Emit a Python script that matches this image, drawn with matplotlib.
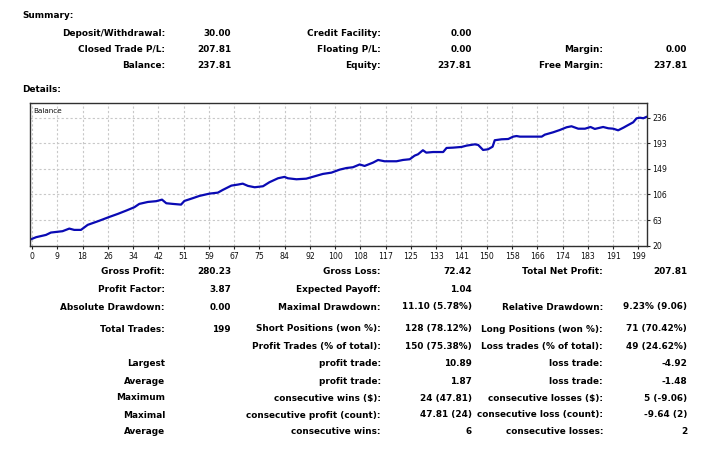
import matplotlib
matplotlib.use("Agg")
import matplotlib.pyplot as plt

W, H = 722, 474

# ---------------- data ----------------
trade_idx = [0, 2.0, 5.2, 6.8, 10.6, 12.8, 14.4, 16.6, 18.8, 22.6, 25.9, 28.6, 31.3, 34.0,
             35.6, 38.4, 41.1, 43.0, 44.4, 46.5, 49.2, 50.3, 53.0, 55.2, 58.5, 61.2, 62.8,
             65.6, 67.7, 69.3, 71.0, 73.2, 75.9, 78.0, 80.8, 82.9, 84.0, 86.8, 90.0, 92.7,
             95.4, 98.2, 100.9, 103.1, 105.2, 107.4, 109.0, 111.7, 113.4, 115.5, 119.4,
             121.5, 123.7, 125.3, 126.4, 128.0, 129.1, 131.3, 134.6, 135.7, 137.8, 140.6,
             142.2, 144.9, 146.0, 147.6, 149.2, 150.7, 151.4, 153.6, 155.8, 157.4, 158.5,
             159.6, 166.7, 167.7, 170.4, 172.6, 174.8, 176.4, 178.6, 180.8, 182.6, 184.0,
             186.7, 188.4, 190.0, 191.6, 193.3, 194.9, 196.5, 197.6, 198.7, 199.8, 201.0]
balance = [30.0, 34.2, 38.0, 42.0, 44.3, 48.7, 46.5, 46.5, 55.0, 62.0, 68.5, 73.5, 79.0, 84.8,
           90.4, 93.7, 95.0, 97.6, 91.5, 90.4, 89.2, 95.4, 100.0, 103.9, 107.8, 109.4, 114.0,
           121.3, 123.0, 124.6, 120.8, 118.5, 120.2, 127.0, 133.7, 136.0, 133.7, 132.0, 133.0,
           137.0, 141.0, 143.2, 148.3, 151.0, 152.3, 157.0, 154.5, 160.0, 164.6, 162.4, 162.4,
           164.6, 165.8, 171.9, 174.2, 181.0, 177.0, 178.0, 178.0, 184.9, 185.4, 186.6,
           188.8, 191.0, 190.0, 181.5, 182.6, 187.0, 197.9, 199.5, 200.0, 204.0, 205.0,
           204.0, 204.0, 207.3, 211.3, 215.2, 219.8, 221.5, 217.4, 217.4, 220.3, 217.0,
           220.3, 218.1, 217.4, 214.7, 219.1, 223.7, 228.2, 234.9, 236.0, 235.0, 237.8]

x_tick_labels = ["0", "9", "18", "26", "34", "42", "51", "59", "67", "75", "84", "92", "100",
                 "108", "117", "125", "133", "141", "150", "158", "166", "174", "183", "191", "199"]
y_tick_values = [20, 63.2, 106.4, 149.6, 192.8, 236]
y_tick_labels = ["20", "63", "106", "149", "193", "236"]

summary_rows = [
    ["Deposit/Withdrawal:", "30.00", "Credit Facility:", "0.00", "", ""],
    ["Closed Trade P/L:", "207.81", "Floating P/L:", "0.00", "Margin:", "0.00"],
    ["Balance:", "237.81", "Equity:", "237.81", "Free Margin:", "237.81"],
]
details_rows = [
    ["Gross Profit:", "280.23", "Gross Loss:", "72.42", "Total Net Profit:", "207.81"],
    ["Profit Factor:", "3.87", "Expected Payoff:", "1.04", "", ""],
    ["Absolute Drawdown:", "0.00", "Maximal Drawdown:", "11.10 (5.78%)", "Relative Drawdown:", "9.23% (9.06)"],
    ["Total Trades:", "199", "Short Positions (won %):", "128 (78.12%)", "Long Positions (won %):", "71 (70.42%)"],
    ["", "", "Profit Trades (% of total):", "150 (75.38%)", "Loss trades (% of total):", "49 (24.62%)"],
    ["Largest", "", "profit trade:", "10.89", "loss trade:", "-4.92"],
    ["Average", "", "profit trade:", "1.87", "loss trade:", "-1.48"],
    ["Maximum", "", "consecutive wins ($):", "24 (47.81)", "consecutive losses ($):", "5 (-9.06)"],
    ["Maximal", "", "consecutive profit (count):", "47.81 (24)", "consecutive loss (count):", "-9.64 (2)"],
    ["Average", "", "consecutive wins:", "6", "consecutive losses:", "2"],
]

# ---------------- layout ----------------
fig = plt.figure(figsize=(W / 100, H / 100), dpi=100)
fig.patch.set_facecolor("white")

def fx(x):
    return x / W

def fy(y):
    return 1 - y / H

FONT = "DejaVu Sans"
FS = 6.4
col_right = [165, 231, 381, 472, 603, 687]

def put_row(row, y):
    for txt, xr in zip(row, col_right):
        if txt:
            fig.text(fx(xr), fy(y), txt, ha="right", va="center", fontsize=FS,
                     family=FONT, weight="bold", color="#000000")

fig.text(fx(22), fy(15), "Summary:", ha="left", va="center", fontsize=FS,
         family=FONT, weight="bold")
for row, y in zip(summary_rows, [33, 49, 65]):
    put_row(row, y)
fig.text(fx(22), fy(89), "Details:", ha="left", va="center", fontsize=FS,
         family=FONT, weight="bold")
for row, y in zip(details_rows, [272, 290, 307, 329, 347, 364, 381, 398, 415, 432]):
    put_row(row, y)

# ---------------- chart ----------------
ax = fig.add_axes([fx(30), fy(246), (647 - 30) / W, (246 - 103) / H])
ax.plot(trade_idx, balance, color="#0A0AB4", lw=1.6, solid_joinstyle="round",
        solid_capstyle="round")
ax.set_xlim(0, 201)
ax.set_ylim(19.3, 260.8)

xt = [0.65 + 8.23 * k for k in range(len(x_tick_labels))]
ax.set_xticks(xt)
ax.set_xticklabels(x_tick_labels)
ax.set_yticks(y_tick_values)
ax.set_yticklabels(y_tick_labels)
ax.yaxis.tick_right()
ax.tick_params(axis="both", labelsize=5.6, length=2.5, width=0.8, color="#202020",
               pad=1.5, labelcolor="#101010")
for lab in ax.get_xticklabels() + ax.get_yticklabels():
    lab.set_family(FONT)
ax.grid(True, color="#C8C8C8", linestyle=(0, (2, 2)), lw=0.8)
for s in ax.spines.values():
    s.set_color("#303030")
    s.set_linewidth(1.0)
ax.text(0.006, 0.965, "Balance", transform=ax.transAxes, ha="left", va="top",
        fontsize=5.2, family=FONT, color="#101010")

fig.savefig("out.png", dpi=100, facecolor="white")
